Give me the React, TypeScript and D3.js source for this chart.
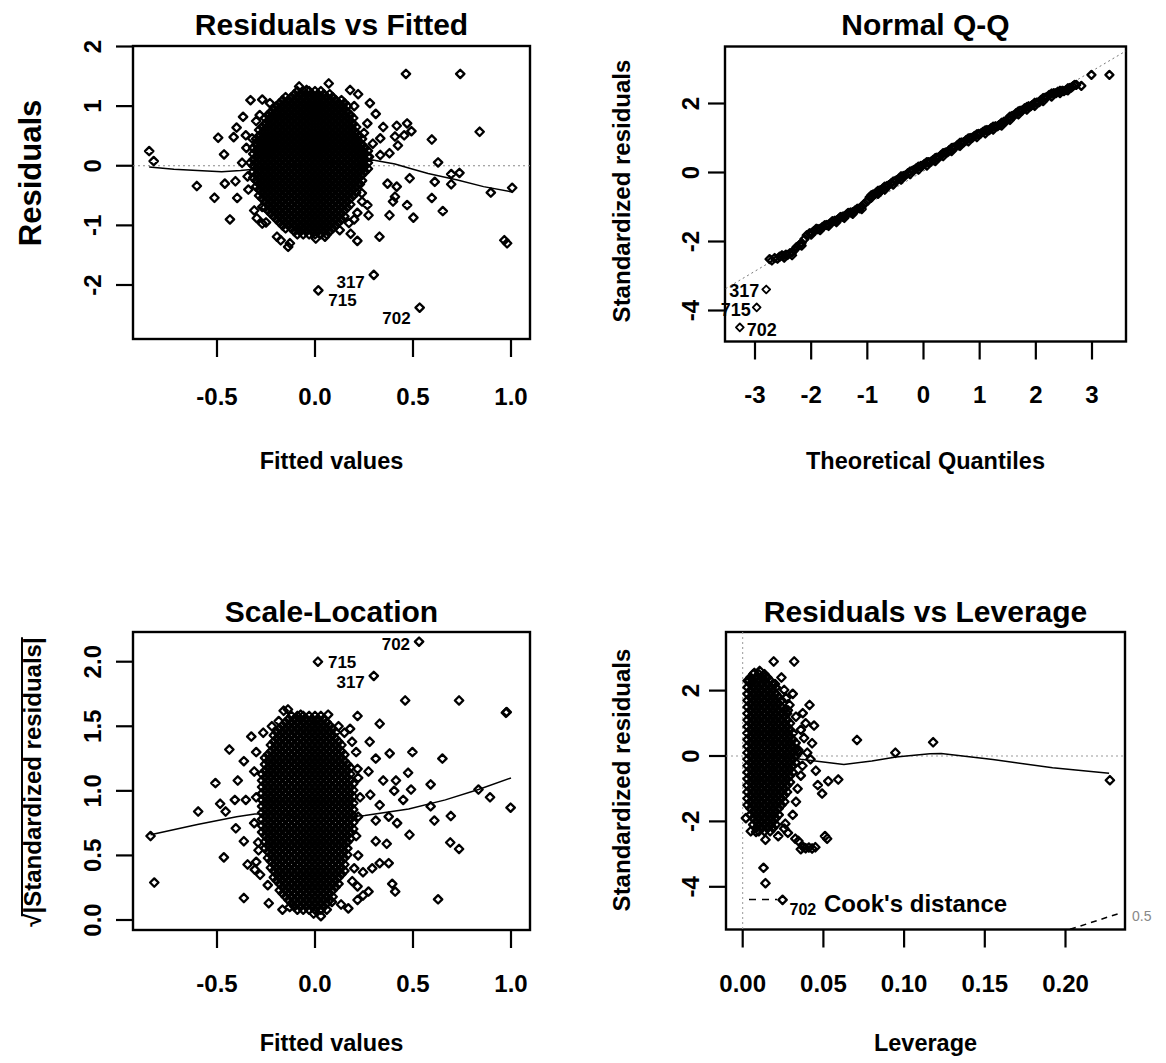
import React, { useEffect, useRef } from "react";
import * as d3 from "d3";

const FONT = "'Liberation Sans', Arial, Helvetica, sans-serif";
const loc = d3.formatLocale({ decimal: ".", thousands: ",", grouping: [3], currency: ["", ""], minus: "-" });

// ---------- Residuals vs Fitted ----------
const rfXTicks = [-0.5, 0, 0.5, 1];
const rfYTicks = [-2, -1, 0, 1, 2];
// overplotted centre of the cloud, one row per residual level: [residual, fitted values]
const rfCore: [number, number[]][] = [
  [1.25, [-.09, -.06, -.03, 0, .03]],
  [1.2, [-.105, -.075, -.045, -.015, .015, .045, .075]],
  [1.15, [-.15, -.12, -.09, -.06, -.03, 0, .03, .06, .09]],
  [1.1, [-.165, -.135, -.105, -.075, -.045, -.015, .015, .045, .075, .105, .135]],
  [1.05, [-.18, -.15, -.12, -.09, -.06, -.03, 0, .03, .06, .09, .12, .15]],
  [1, [-.195, -.165, -.135, -.105, -.075, -.045, -.015, .015, .045, .075, .105, .135, .165]],
  [.95, [-.21, -.18, -.15, -.12, -.09, -.06, -.03, 0, .03, .06, .09, .12, .15]],
  [.9, [-.225, -.195, -.165, -.135, -.105, -.075, -.045, -.015, .015, .045, .075, .105, .135, .165]],
  [.85, [-.24, -.21, -.18, -.15, -.12, -.09, -.06, -.03, 0, .03, .06, .09, .12, .15, .18]],
  [.8, [-.255, -.225, -.195, -.165, -.135, -.105, -.075, -.045, -.015, .015, .045, .075, .105, .135, .165, .195]],
  [.75, [-.24, -.21, -.18, -.15, -.12, -.09, -.06, -.03, 0, .03, .06, .09, .12, .15, .18]],
  [.7, [-.255, -.225, -.195, -.165, -.135, -.105, -.075, -.045, -.015, .015, .045, .075, .105, .135, .165, .195]],
  [.65, [-.27, -.24, -.21, -.18, -.15, -.12, -.09, -.06, -.03, 0, .03, .06, .09, .12, .15, .18, .21]],
  [.6, [-.285, -.255, -.225, -.195, -.165, -.135, -.105, -.075, -.045, -.015, .015, .045, .075, .105, .135, .165, .195]],
  [.55, [-.27, -.24, -.21, -.18, -.15, -.12, -.09, -.06, -.03, 0, .03, .06, .09, .12, .15, .18, .21]],
  [.5, [-.285, -.255, -.225, -.195, -.165, -.135, -.105, -.075, -.045, -.015, .015, .045, .075, .105, .135, .165, .195, .225]],
  [.45, [-.3, -.27, -.24, -.21, -.18, -.15, -.12, -.09, -.06, -.03, 0, .03, .06, .09, .12, .15, .18, .21, .24]],
  [.4, [-.285, -.255, -.225, -.195, -.165, -.135, -.105, -.075, -.045, -.015, .015, .045, .075, .105, .135, .165, .195, .225]],
  [.35, [-.3, -.27, -.24, -.21, -.18, -.15, -.12, -.09, -.06, -.03, 0, .03, .06, .09, .12, .15, .18, .21, .24]],
  [.3, [-.315, -.285, -.255, -.225, -.195, -.165, -.135, -.105, -.075, -.045, -.015, .015, .045, .075, .105, .135, .165, .195, .225, .255]],
  [.25, [-.3, -.27, -.24, -.21, -.18, -.15, -.12, -.09, -.06, -.03, 0, .03, .06, .09, .12, .15, .18, .21, .24, .27]],
  [.2, [-.315, -.285, -.255, -.225, -.195, -.165, -.135, -.105, -.075, -.045, -.015, .015, .045, .075, .105, .135, .165, .195, .225, .255]],
  [.15, [-.3, -.27, -.24, -.21, -.18, -.15, -.12, -.09, -.06, -.03, 0, .03, .06, .09, .12, .15, .18, .21, .24, .27]],
  [.1, [-.315, -.285, -.255, -.225, -.195, -.165, -.135, -.105, -.075, -.045, -.015, .015, .045, .075, .105, .135, .165, .195, .225, .255]],
  [.05, [-.33, -.3, -.27, -.24, -.21, -.18, -.15, -.12, -.09, -.06, -.03, 0, .03, .06, .09, .12, .15, .18, .21, .24, .27]],
  [0, [-.315, -.285, -.255, -.225, -.195, -.165, -.135, -.105, -.075, -.045, -.015, .015, .045, .075, .105, .135, .165, .195, .225, .255]],
  [-.05, [-.3, -.27, -.24, -.21, -.18, -.15, -.12, -.09, -.06, -.03, 0, .03, .06, .09, .12, .15, .18, .21, .24, .27]],
  [-.1, [-.315, -.285, -.255, -.225, -.195, -.165, -.135, -.105, -.075, -.045, -.015, .015, .045, .075, .105, .135, .165, .195, .225, .255]],
  [-.15, [-.3, -.27, -.24, -.21, -.18, -.15, -.12, -.09, -.06, -.03, 0, .03, .06, .09, .12, .15, .18, .21, .24]],
  [-.2, [-.315, -.285, -.255, -.225, -.195, -.165, -.135, -.105, -.075, -.045, -.015, .015, .045, .075, .105, .135, .165, .195, .225]],
  [-.25, [-.3, -.27, -.24, -.21, -.18, -.15, -.12, -.09, -.06, -.03, 0, .03, .06, .09, .12, .15, .18, .21, .24]],
  [-.3, [-.285, -.255, -.225, -.195, -.165, -.135, -.105, -.075, -.045, -.015, .015, .045, .075, .105, .135, .165, .195, .225]],
  [-.35, [-.3, -.27, -.24, -.21, -.18, -.15, -.12, -.09, -.06, -.03, 0, .03, .06, .09, .12, .15, .18, .21]],
  [-.4, [-.285, -.255, -.225, -.195, -.165, -.135, -.105, -.075, -.045, -.015, .015, .045, .075, .105, .135, .165, .195]],
  [-.45, [-.27, -.24, -.21, -.18, -.15, -.12, -.09, -.06, -.03, 0, .03, .06, .09, .12, .15, .18, .21]],
  [-.5, [-.285, -.255, -.225, -.195, -.165, -.135, -.105, -.075, -.045, -.015, .015, .045, .075, .105, .135, .165, .195]],
  [-.55, [-.27, -.24, -.21, -.18, -.15, -.12, -.09, -.06, -.03, 0, .03, .06, .09, .12, .15, .18]],
  [-.6, [-.255, -.225, -.195, -.165, -.135, -.105, -.075, -.045, -.015, .015, .045, .075, .105, .135, .165]],
  [-.65, [-.24, -.21, -.18, -.15, -.12, -.09, -.06, -.03, 0, .03, .06, .09, .12, .15, .18]],
  [-.7, [-.255, -.225, -.195, -.165, -.135, -.105, -.075, -.045, -.015, .015, .045, .075, .105, .135, .165]],
  [-.75, [-.24, -.21, -.18, -.15, -.12, -.09, -.06, -.03, 0, .03, .06, .09, .12, .15]],
  [-.8, [-.225, -.195, -.165, -.135, -.105, -.075, -.045, -.015, .015, .045, .075, .105, .135]],
  [-.85, [-.21, -.18, -.15, -.12, -.09, -.06, -.03, 0, .03, .06, .09, .12, .15]],
  [-.9, [-.195, -.165, -.135, -.105, -.075, -.045, -.015, .015, .045, .075, .105, .135]],
  [-.95, [-.18, -.15, -.12, -.09, -.06, -.03, 0, .03, .06, .09, .12]],
  [-1, [-.165, -.135, -.105, -.075, -.045, -.015, .015, .045, .075, .105]],
  [-1.05, [-.15, -.12, -.09, -.06, -.03, 0, .03, .06, .09]],
  [-1.1, [-.105, -.075, -.045, -.015, .015, .045, .075]],
  [-1.15, [-.09, -.06, -.03, 0, .03, .06]],
];
// scattered points round the cloud: [fitted, residual]
const rfEdge: [number, number][] = [
  [-0.846, 0.246], [-0.823, 0.078], [-0.603, -0.34], [-0.513, -0.537], [-0.494, 0.47], [-0.464, 0.19],
  [-0.46, -0.3], [-0.434, -0.9], [-0.415, 0.48], [-0.406, -0.26], [-0.397, -0.54], [-0.4, 0.64],
  [-0.367, 0.82], [-0.353, 0.51], [-0.329, 1.1], [-0.321, 0.46], [-0.372, 0.05], [-0.344, -0.18],
  [-0.269, 1.11], [-0.282, 0.85], [-0.297, -0.88], [-0.269, -0.97], [-0.269, -0.69], [-0.194, -1.19],
  [-0.175, -1.25], [-0.137, -1.36], [-0.128, -1.3], [-0.197, 0.88], [-0.081, -1.08], [-0.081, 1.33],
  [-0.043, 1.27], [0.07, 1.38], [0.004, -1.22], [0.051, -1.19], [0.126, -1.08], [0.173, -0.96],
  [0.182, -1.14], [0.216, -1.26], [0.179, 1.27], [0.22, 1.2], [0.28, 1.05], [0.31, 0.87],
  [0.267, 0.71], [0.348, 0.65], [0.333, 0.46], [0.417, 0.67], [0.47, 0.71], [0.492, 0.58],
  [0.455, 0.51], [0.408, 0.49], [0.423, 0.34], [0.38, 0.21], [0.464, 1.54], [0.741, 1.54],
  [0.84, 0.57], [0.596, 0.44], [0.628, 0.056], [0.611, -0.27], [0.483, -0.21], [0.37, -0.3],
  [0.417, -0.35], [0.408, -0.52], [0.398, -0.6], [0.38, -0.83], [0.47, -0.66], [0.502, -0.87],
  [0.596, -0.54], [0.652, -0.76], [0.695, -0.14], [0.695, -0.31], [0.737, -0.12], [0.897, -0.45],
  [1.006, -0.37], [0.966, -1.25], [0.98, -1.3], [0.329, -1.19], [0.273, -0.83], [0.267, -0.66],
  [0.216, -0.79], [0.239, -0.46], [0.229, -0.31], [0.248, -0.02], [0.276, 0.15], [0.295, 0.37],
  [0.333, 0.18], [-0.35, 0.3], [-0.34, -0.4], [-0.31, -0.75], [-0.3, 0.75], [0.25, 0.55],
  [0.24, -0.6], [0.2, 1.0], [0.2, -0.9], [-0.23, 1.05], [-0.25, -0.95],
];
const rfFlagged: [string, number, number][] = [["317", 0.3, -1.83], ["715", 0.017, -2.09], ["702", 0.534, -2.38]];
const rfSmooth: [number, number][] = [
  [-0.846, -0.02], [-0.72, -0.06], [-0.6, -0.08], [-0.476, -0.1], [-0.38, -0.08], [-0.25, -0.04],
  [-0.1, 0], [0, 0.03], [0.1, 0.06], [0.2, 0.08], [0.295, 0.095], [0.408, 0.03], [0.5, -0.06],
  [0.577, -0.13], [0.727, -0.24], [0.86, -0.35], [1.006, -0.44],
];

// ---------- Normal Q-Q ----------
const qqXTicks = [-3, -2, -1, 0, 1, 2, 3];
const qqYTicks = [-4, -2, 0, 2];
// [theoretical quantile, standardized residual]
const qqPoints: [number, number][] = [
  [-2.74, -2.51], [-2.65, -2.48], [-2.56, -2.44], [-2.5, -2.42], [-2.45, -2.38], [-2.38, -2.34],
  [-2.3, -2.25], [-2.21, -2.1], [-2.12, -1.93], [-2.03, -1.76], [-1.95, -1.7], [-1.88, -1.64],
  [-1.8, -1.58], [-1.73, -1.52], [-1.65, -1.46], [-1.58, -1.4], [-1.51, -1.34], [-1.44, -1.28],
  [-1.37, -1.22], [-1.3, -1.16], [-1.22, -1.1], [-1.14, -1.04], [-1.05, -0.9], [-0.96, -0.72],
  [-0.9, -0.64], [-0.84, -0.58], [-0.78, -0.52], [-0.72, -0.46], [-0.65, -0.39], [-0.58, -0.32],
  [-0.5, -0.24], [-0.43, -0.17], [-0.36, -0.1], [-0.28, -0.02], [-0.2, 0.05], [-0.13, 0.12],
  [-0.05, 0.19], [0.02, 0.25], [0.09, 0.3], [0.17, 0.36], [0.24, 0.43], [0.31, 0.5],
  [0.39, 0.58], [0.46, 0.65], [0.53, 0.72], [0.61, 0.8], [0.68, 0.87], [0.76, 0.94],
  [0.83, 1.0], [0.91, 1.06], [0.98, 1.12], [1.06, 1.18], [1.13, 1.23], [1.2, 1.28],
  [1.28, 1.34], [1.35, 1.38], [1.43, 1.47], [1.5, 1.55], [1.58, 1.64], [1.65, 1.72],
  [1.72, 1.79], [1.8, 1.86], [1.87, 1.92], [1.94, 1.96], [2.02, 2.03], [2.09, 2.1],
  [2.17, 2.17], [2.24, 2.25], [2.32, 2.3], [2.39, 2.34], [2.47, 2.37], [2.54, 2.39],
  [2.6, 2.45], [2.66, 2.5], [2.72, 2.54], [2.81, 2.51], [2.99, 2.83], [3.31, 2.83],
];
const qqSpread: [number, number][] = [
  [-2.6, -2.5], [-2.52, -2.4], [-2.42, -2.39], [-2.34, -2.32], [-2.26, -2.16], [-2.17, -2.04],
  [-2.08, -1.82], [-1.99, -1.75], [-1.91, -1.63], [-1.84, -1.63], [-1.76, -1.53], [-1.69, -1.51],
  [-1.62, -1.41], [-1.55, -1.39], [-1.48, -1.29], [-1.41, -1.27], [-1.34, -1.17], [-1.26, -1.15],
  [-1.18, -1.05], [-1.1, -0.99], [-1.0, -0.83], [-0.93, -0.66], [-0.87, -0.63], [-0.81, -0.53],
  [-0.75, -0.51], [-0.69, -0.41], [-0.62, -0.37], [-0.54, -0.26], [-0.47, -0.22], [-0.4, -0.11],
  [-0.32, -0.08], [-0.24, 0.03], [-0.17, 0.07], [-0.09, 0.17], [-0.02, 0.2], [0.06, 0.3],
  [0.13, 0.31], [0.21, 0.42], [0.28, 0.45], [0.35, 0.56], [0.43, 0.59], [0.5, 0.71],
  [0.57, 0.74], [0.65, 0.86], [0.72, 0.88], [0.8, 0.99], [0.87, 1.01], [0.95, 1.11],
  [1.02, 1.13], [1.1, 1.22], [1.17, 1.23], [1.24, 1.33], [1.32, 1.34], [1.39, 1.44],
  [1.47, 1.49], [1.54, 1.62], [1.62, 1.66], [1.69, 1.77], [1.76, 1.8], [1.84, 1.9],
  [1.91, 1.92], [1.98, 2.02], [2.06, 2.04], [2.13, 2.16], [2.2, 2.19], [2.28, 2.29],
  [2.36, 2.3], [2.43, 2.37], [2.5, 2.36], [2.57, 2.44], [2.63, 2.46], [2.69, 2.54],
];
const qqLower: [number, number][] = [
  [-2.7, -2.55], [-2.48, -2.47], [-2.34, -2.4], [-2.17, -2.12], [-2.0, -1.8], [-1.84, -1.67],
  [-1.69, -1.55], [-1.55, -1.44], [-1.41, -1.32], [-1.26, -1.2], [-1.1, -1.06], [-0.93, -0.73],
  [-0.81, -0.62], [-0.69, -0.5], [-0.54, -0.35], [-0.4, -0.21], [-0.24, -0.05], [-0.09, 0.08],
  [0.06, 0.2], [0.21, 0.33], [0.35, 0.47], [0.5, 0.62], [0.65, 0.77], [0.8, 0.9],
  [0.95, 1.02], [1.1, 1.13], [1.24, 1.24], [1.39, 1.36], [1.54, 1.52], [1.69, 1.68],
  [1.84, 1.82], [1.98, 1.93], [2.13, 2.07], [2.28, 2.2], [2.43, 2.3], [2.57, 2.38],
];
const qqFlagged: [string, number, number][] = [["317", -2.8, -3.39], ["715", -2.97, -3.91], ["702", -3.27, -4.49]];
const qqRefLine: [number, number][] = [[-3.6, -3.44], [3.6, 3.52]];

// ---------- Scale-Location ----------
const slXTicks = [-0.5, 0, 0.5, 1];
const slYTicks = [0, 0.5, 1, 1.5, 2];
// [sqrt|std residual|, fitted values]
const slCore: [number, number[]][] = [
  [1.58, [-.12, -.09, -.06, -.03, 0, .03]],
  [1.555, [-.135, -.105, -.075, -.045, -.015, .015, .045]],
  [1.53, [-.15, -.12, -.09, -.06, -.03, 0, .03, .06]],
  [1.505, [-.165, -.135, -.105, -.075, -.045, -.015, .015, .045, .075]],
  [1.48, [-.18, -.15, -.12, -.09, -.06, -.03, 0, .03, .06, .09]],
  [1.455, [-.195, -.165, -.135, -.105, -.075, -.045, -.015, .015, .045, .075, .105]],
  [1.43, [-.21, -.18, -.15, -.12, -.09, -.06, -.03, 0, .03, .06, .09]],
  [1.405, [-.195, -.165, -.135, -.105, -.075, -.045, -.015, .015, .045, .075, .105]],
  [1.38, [-.21, -.18, -.15, -.12, -.09, -.06, -.03, 0, .03, .06, .09, .12]],
  [1.355, [-.225, -.195, -.165, -.135, -.105, -.075, -.045, -.015, .015, .045, .075, .105, .135]],
  [1.33, [-.21, -.18, -.15, -.12, -.09, -.06, -.03, 0, .03, .06, .09, .12]],
  [1.305, [-.225, -.195, -.165, -.135, -.105, -.075, -.045, -.015, .015, .045, .075, .105, .135]],
  [1.28, [-.24, -.21, -.18, -.15, -.12, -.09, -.06, -.03, 0, .03, .06, .09, .12, .15]],
  [1.255, [-.255, -.225, -.195, -.165, -.135, -.105, -.075, -.045, -.015, .015, .045, .075, .105, .135]],
  [1.23, [-.24, -.21, -.18, -.15, -.12, -.09, -.06, -.03, 0, .03, .06, .09, .12, .15]],
  [1.205, [-.255, -.225, -.195, -.165, -.135, -.105, -.075, -.045, -.015, .015, .045, .075, .105, .135, .165]],
  [1.18, [-.24, -.21, -.18, -.15, -.12, -.09, -.06, -.03, 0, .03, .06, .09, .12, .15, .18]],
  [1.155, [-.255, -.225, -.195, -.165, -.135, -.105, -.075, -.045, -.015, .015, .045, .075, .105, .135, .165]],
  [1.13, [-.27, -.24, -.21, -.18, -.15, -.12, -.09, -.06, -.03, 0, .03, .06, .09, .12, .15, .18]],
  [1.105, [-.255, -.225, -.195, -.165, -.135, -.105, -.075, -.045, -.015, .015, .045, .075, .105, .135, .165]],
  [1.08, [-.27, -.24, -.21, -.18, -.15, -.12, -.09, -.06, -.03, 0, .03, .06, .09, .12, .15, .18]],
  [1.055, [-.255, -.225, -.195, -.165, -.135, -.105, -.075, -.045, -.015, .015, .045, .075, .105, .135, .165, .195]],
  [1.03, [-.27, -.24, -.21, -.18, -.15, -.12, -.09, -.06, -.03, 0, .03, .06, .09, .12, .15, .18]],
  [1.005, [-.255, -.225, -.195, -.165, -.135, -.105, -.075, -.045, -.015, .015, .045, .075, .105, .135, .165, .195]],
  [.98, [-.27, -.24, -.21, -.18, -.15, -.12, -.09, -.06, -.03, 0, .03, .06, .09, .12, .15, .18]],
  [.955, [-.255, -.225, -.195, -.165, -.135, -.105, -.075, -.045, -.015, .015, .045, .075, .105, .135, .165, .195]],
  [.93, [-.27, -.24, -.21, -.18, -.15, -.12, -.09, -.06, -.03, 0, .03, .06, .09, .12, .15, .18]],
  [.905, [-.255, -.225, -.195, -.165, -.135, -.105, -.075, -.045, -.015, .015, .045, .075, .105, .135, .165, .195]],
  [.88, [-.27, -.24, -.21, -.18, -.15, -.12, -.09, -.06, -.03, 0, .03, .06, .09, .12, .15, .18]],
  [.855, [-.255, -.225, -.195, -.165, -.135, -.105, -.075, -.045, -.015, .015, .045, .075, .105, .135, .165, .195]],
  [.83, [-.27, -.24, -.21, -.18, -.15, -.12, -.09, -.06, -.03, 0, .03, .06, .09, .12, .15, .18]],
  [.805, [-.255, -.225, -.195, -.165, -.135, -.105, -.075, -.045, -.015, .015, .045, .075, .105, .135, .165, .195]],
  [.78, [-.27, -.24, -.21, -.18, -.15, -.12, -.09, -.06, -.03, 0, .03, .06, .09, .12, .15, .18]],
  [.755, [-.255, -.225, -.195, -.165, -.135, -.105, -.075, -.045, -.015, .015, .045, .075, .105, .135, .165, .195]],
  [.73, [-.27, -.24, -.21, -.18, -.15, -.12, -.09, -.06, -.03, 0, .03, .06, .09, .12, .15, .18]],
  [.705, [-.255, -.225, -.195, -.165, -.135, -.105, -.075, -.045, -.015, .015, .045, .075, .105, .135, .165, .195]],
  [.68, [-.27, -.24, -.21, -.18, -.15, -.12, -.09, -.06, -.03, 0, .03, .06, .09, .12, .15, .18]],
  [.655, [-.255, -.225, -.195, -.165, -.135, -.105, -.075, -.045, -.015, .015, .045, .075, .105, .135, .165]],
  [.63, [-.24, -.21, -.18, -.15, -.12, -.09, -.06, -.03, 0, .03, .06, .09, .12, .15, .18]],
  [.605, [-.255, -.225, -.195, -.165, -.135, -.105, -.075, -.045, -.015, .015, .045, .075, .105, .135, .165]],
  [.58, [-.24, -.21, -.18, -.15, -.12, -.09, -.06, -.03, 0, .03, .06, .09, .12, .15]],
  [.555, [-.255, -.225, -.195, -.165, -.135, -.105, -.075, -.045, -.015, .015, .045, .075, .105, .135, .165]],
  [.53, [-.24, -.21, -.18, -.15, -.12, -.09, -.06, -.03, 0, .03, .06, .09, .12, .15]],
  [.505, [-.225, -.195, -.165, -.135, -.105, -.075, -.045, -.015, .015, .045, .075, .105, .135, .165]],
  [.48, [-.24, -.21, -.18, -.15, -.12, -.09, -.06, -.03, 0, .03, .06, .09, .12, .15]],
  [.455, [-.225, -.195, -.165, -.135, -.105, -.075, -.045, -.015, .015, .045, .075, .105, .135]],
  [.43, [-.21, -.18, -.15, -.12, -.09, -.06, -.03, 0, .03, .06, .09, .12, .15]],
  [.405, [-.225, -.195, -.165, -.135, -.105, -.075, -.045, -.015, .015, .045, .075, .105, .135]],
  [.38, [-.21, -.18, -.15, -.12, -.09, -.06, -.03, 0, .03, .06, .09, .12, .15]],
  [.355, [-.195, -.165, -.135, -.105, -.075, -.045, -.015, .015, .045, .075, .105, .135]],
  [.33, [-.21, -.18, -.15, -.12, -.09, -.06, -.03, 0, .03, .06, .09, .12]],
  [.305, [-.195, -.165, -.135, -.105, -.075, -.045, -.015, .015, .045, .075, .105]],
  [.28, [-.18, -.15, -.12, -.09, -.06, -.03, 0, .03, .06, .09, .12]],
  [.255, [-.165, -.135, -.105, -.075, -.045, -.015, .015, .045, .075, .105]],
  [.23, [-.18, -.15, -.12, -.09, -.06, -.03, 0, .03, .06, .09]],
  [.205, [-.165, -.135, -.105, -.075, -.045, -.015, .015, .045, .075]],
  [.18, [-.15, -.12, -.09, -.06, -.03, 0, .03, .06, .09]],
  [.155, [-.135, -.105, -.075, -.045, -.015, .015, .045, .075]],
  [.13, [-.12, -.09, -.06, -.03, 0, .03, .06]],
  [.105, [-.105, -.075, -.045, -.015, .015, .045]],
  [.08, [-.09, -.06, -.03, 0, .03, .06]],
];
const slEdge: [number, number][] = [
  [0.46, 1.7], [0.735, 1.7], [0.974, 1.605], [0.978, 1.61], [0.33, 1.52], [0.217, 1.58], [0.067, 1.59],
  [0.279, 1.38], [0.381, 1.29], [0.497, 1.3], [0.65, 1.25], [0.31, 1.25], [0.273, 1.15], [0.217, 1.17],
  [0.348, 1.08], [0.413, 1.08], [0.475, 1.14], [0.49, 1.01], [0.45, 0.93], [0.404, 1.0], [0.59, 1.05],
  [0.59, 0.88], [0.834, 1.01], [0.893, 0.95], [0.998, 0.87], [0.609, 0.77], [0.693, 0.805], [0.69, 0.6],
  [0.735, 0.55], [0.628, 0.16], [0.482, 0.66], [0.419, 0.75], [0.376, 0.8], [0.366, 0.59], [0.376, 0.44],
  [0.394, 0.28], [0.409, 0.22], [0.31, 0.61], [0.31, 0.77], [0.33, 0.89], [0.282, 0.97], [0.292, 0.4],
  [0.33, 0.44], [0.245, 0.37], [0.273, 0.22], [0.217, 0.26], [0.17, 0.09], [0.133, 0.12], [0.217, 0.155],
  [0.245, 0.19], [-0.839, 0.65], [-0.82, 0.29], [-0.596, 0.84], [-0.508, 1.06], [-0.484, 0.9],
  [-0.465, 0.485], [-0.456, 0.84], [-0.437, 1.32], [-0.409, 0.93], [-0.404, 0.71], [-0.394, 1.08],
  [-0.363, 1.23], [-0.363, 0.17], [-0.353, 0.93], [-0.363, 0.61], [-0.325, 1.42], [-0.264, 1.45],
  [-0.344, 0.43], [-0.307, 0.39], [-0.288, 0.54], [-0.241, 0.27], [-0.236, 0.13], [-0.166, 0.08],
  [-0.129, 0.1], [-0.007, 0.05], [0.03, 0.03], [0.086, 0.14], [-0.185, 1.54], [-0.138, 1.63],
  [-0.073, 1.59], [0.011, 1.55], [0.179, 1.48], [0.189, 1.38], [-0.3, 1.3], [-0.31, 1.15], [-0.3, 0.95],
  [-0.31, 0.75], [-0.29, 0.6], [-0.3, 0.45], [-0.28, 0.35], [0.21, 1.3], [0.22, 1.1], [0.23, 0.95],
  [0.22, 0.8], [0.21, 0.65], [0.22, 0.5], [0.2, 0.4], [0.19, 0.3], [-0.22, 1.5], [-0.16, 1.62],
  [0.12, 1.5], [0.15, 1.45],
];
const slFlagged: [string, number, number][] = [["702", 0.531, 2.155], ["715", 0.015, 2.0], ["317", 0.3, 1.89]];
const slSmooth: [number, number][] = [
  [-0.839, 0.66], [-0.6, 0.74], [-0.4, 0.8], [-0.307, 0.82], [-0.2, 0.82], [-0.1, 0.8], [0, 0.79],
  [0.1, 0.79], [0.254, 0.81], [0.478, 0.86], [0.665, 0.93], [0.834, 1.01], [1.0, 1.1],
];

// ---------- Residuals vs Leverage ----------
const lvXTicks = [0, 0.05, 0.1, 0.15, 0.2];
const lvYTicks = [-4, -2, 0, 2];
// [std residual, leverages]
const lvCore: [number, number[]][] = [
  [2.5, [.0065, .01, .0135]],
  [2.4, [.0048, .0083, .0118, .0153]],
  [2.3, [.003, .0065, .01, .0135, .017]],
  [2.2, [.0048, .0083, .0118, .0153, .0188]],
  [2.1, [.003, .0065, .01, .0135, .017, .0205]],
  [2, [.0048, .0083, .0118, .0153, .0188]],
  [1.9, [.003, .0065, .01, .0135, .017, .0205]],
  [1.8, [.0048, .0083, .0118, .0153, .0188, .0223]],
  [1.7, [.003, .0065, .01, .0135, .017, .0205, .024]],
  [1.6, [.0048, .0083, .0118, .0153, .0188, .0223]],
  [1.5, [.003, .0065, .01, .0135, .017, .0205, .024]],
  [1.4, [.0048, .0083, .0118, .0153, .0188, .0223, .0258]],
  [1.3, [.003, .0065, .01, .0135, .017, .0205, .024, .0275]],
  [1.2, [.0048, .0083, .0118, .0153, .0188, .0223, .0258]],
  [1.1, [.003, .0065, .01, .0135, .017, .0205, .024, .0275]],
  [1, [.0048, .0083, .0118, .0153, .0188, .0223, .0258, .0293]],
  [.9, [.003, .0065, .01, .0135, .017, .0205, .024, .0275]],
  [.8, [.0048, .0083, .0118, .0153, .0188, .0223, .0258, .0293]],
  [.7, [.003, .0065, .01, .0135, .017, .0205, .024, .0275, .031]],
  [.6, [.0048, .0083, .0118, .0153, .0188, .0223, .0258, .0293]],
  [.5, [.003, .0065, .01, .0135, .017, .0205, .024, .0275, .031]],
  [.4, [.0048, .0083, .0118, .0153, .0188, .0223, .0258, .0293, .0328]],
  [.3, [.003, .0065, .01, .0135, .017, .0205, .024, .0275, .031]],
  [.2, [.0048, .0083, .0118, .0153, .0188, .0223, .0258, .0293, .0328]],
  [.1, [.003, .0065, .01, .0135, .017, .0205, .024, .0275, .031, .0345]],
  [0, [.0048, .0083, .0118, .0153, .0188, .0223, .0258, .0293, .0328]],
  [-.1, [.003, .0065, .01, .0135, .017, .0205, .024, .0275, .031]],
  [-.2, [.0048, .0083, .0118, .0153, .0188, .0223, .0258, .0293, .0328]],
  [-.3, [.003, .0065, .01, .0135, .017, .0205, .024, .0275, .031]],
  [-.4, [.0048, .0083, .0118, .0153, .0188, .0223, .0258, .0293]],
  [-.5, [.003, .0065, .01, .0135, .017, .0205, .024, .0275, .031]],
  [-.6, [.0048, .0083, .0118, .0153, .0188, .0223, .0258, .0293]],
  [-.7, [.003, .0065, .01, .0135, .017, .0205, .024, .0275]],
  [-.8, [.0048, .0083, .0118, .0153, .0188, .0223, .0258, .0293]],
  [-.9, [.003, .0065, .01, .0135, .017, .0205, .024, .0275]],
  [-1, [.0048, .0083, .0118, .0153, .0188, .0223, .0258]],
  [-1.1, [.003, .0065, .01, .0135, .017, .0205, .024, .0275]],
  [-1.2, [.0048, .0083, .0118, .0153, .0188, .0223, .0258]],
  [-1.3, [.003, .0065, .01, .0135, .017, .0205, .024]],
  [-1.4, [.0048, .0083, .0118, .0153, .0188, .0223, .0258]],
  [-1.5, [.003, .0065, .01, .0135, .017, .0205, .024]],
  [-1.6, [.0048, .0083, .0118, .0153, .0188, .0223]],
  [-1.7, [.0065, .01, .0135, .017, .0205]],
  [-1.8, [.0048, .0083, .0118, .0153, .0188, .0223]],
  [-1.9, [.0065, .01, .0135, .017, .0205]],
  [-2, [.0083, .0118, .0153, .0188]],
  [-2.1, [.0065, .01, .0135, .017, .0205]],
  [-2.2, [.0083, .0118, .0153, .0188]],
  [-2.3, [.01, .0135, .017]],
];
const lvEdge: [number, number][] = [
  [0.0192, 2.89], [0.0319, 2.89], [0.0257, 2.02], [0.0268, 1.77], [0.029, 1.56], [0.0414, 1.56],
  [0.0372, 1.31], [0.039, 1.0], [0.0442, 0.93], [0.036, 0.8], [0.043, 0.39], [0.0345, 0.18],
  [0.0708, 0.49], [0.118, 0.42], [0.0946, 0.1], [0.0453, -0.45], [0.0465, -0.89], [0.0492, -1.15],
  [0.053, -0.77], [0.0592, -0.72], [0.2275, -0.74], [0.0264, -2.07], [0.0257, -2.22], [0.0326, -2.53],
  [0.0523, -2.53], [0.051, -2.45], [0.0072, 2.54], [0.0141, 2.43], [0.0083, -2.32], [0.0141, -2.56],
  [0.0375, -2.78], [0.039, -2.82], [0.041, -2.8], [0.043, -2.83], [0.045, -2.79], [0.036, -2.85],
  [0.0345, -2.6], [0.031, 1.9], [0.033, 1.2], [0.038, 0.55], [0.037, -0.3], [0.036, -0.6],
  [0.034, -1.0], [0.033, -1.4], [0.031, -1.8], [0.028, -2.35], [0.022, -2.45], [0.02, 2.2],
  [0.024, 2.4], [0.0105, 2.6], [0.004, 2.3], [0.002, -1.9], [0.005, -2.3], [0.028, 1.4],
  [0.04, 0.1], [0.042, -0.1], [0.0129, -3.42], [0.0141, -3.89],
];
const lvFlagged: [string, number, number][] = [["702", 0.0247, -4.4]];
const lvSmooth: [number, number][] = [
  [0.003, 0.1], [0.015, 0.05], [0.025, 0], [0.036, -0.1], [0.0627, -0.26], [0.08, -0.15], [0.095, -0.03],
  [0.116, 0.07], [0.123, 0.08], [0.155, -0.11], [0.192, -0.36], [0.227, -0.53],
];
const cookHalf: [number, number][] = [[0.2028, -5.3], [0.2135, -5.13], [0.2235, -4.97], [0.2335, -4.81]];

type Box = { l: number; r: number; t: number; b: number };
type Lin = d3.ScaleLinear<number, number>;

const diamond = (cx: number, cy: number, s: number) =>
  `M${cx},${cy - s}L${cx + s},${cy}L${cx},${cy + s}L${cx - s},${cy}Z`;

const flatten = (rows: [number, number[]][]): [number, number][] =>
  rows.flatMap(([yv, xs]) => xs.map((xv) => [xv, yv] as [number, number]));

const App = () => {
  const ref = useRef<SVGSVGElement>(null);

  useEffect(() => {
    draw();
  }, []);

  const draw = () => {
    const svg = d3.select(ref.current);
    svg.selectAll("*").remove();
    const defs = svg.append("defs");

    const frame = (
      id: string, box: Box, x: Lin, y: Lin, xTicks: number[], yTicks: number[],
      xf: (n: number) => string, yf: (n: number) => string,
      o: { title: string; titleY: number; xLab: string; xLabY: number; yLab: string; yLabX: number; yLabY: number; yLabSize: number; xTickY: number; yTickX: number }
    ) => {
      const cx = (box.l + box.r) / 2;
      defs.append("clipPath").attr("id", id).append("rect")
        .attr("x", box.l).attr("y", box.t).attr("width", box.r - box.l).attr("height", box.b - box.t);
      const g = svg.append("g").attr("font-family", FONT).attr("font-weight", "bold").attr("fill", "#000");
      g.append("rect").attr("x", box.l).attr("y", box.t).attr("width", box.r - box.l).attr("height", box.b - box.t)
        .attr("fill", "none").attr("stroke", "#000").attr("stroke-width", 2.4);
      g.selectAll(".xt").data(xTicks).join("line").attr("class", "xt")
        .attr("x1", (d) => x(d)).attr("x2", (d) => x(d)).attr("y1", box.b).attr("y2", box.b + 18)
        .attr("stroke", "#000").attr("stroke-width", 2.2);
      g.selectAll(".xl").data(xTicks).join("text").attr("class", "xl")
        .attr("x", (d) => x(d)).attr("y", o.xTickY).attr("text-anchor", "middle").attr("font-size", 24)
        .text((d) => xf(d));
      g.selectAll(".yt").data(yTicks).join("line").attr("class", "yt")
        .attr("y1", (d) => y(d)).attr("y2", (d) => y(d)).attr("x1", box.l - 17).attr("x2", box.l)
        .attr("stroke", "#000").attr("stroke-width", 2.2);
      g.selectAll(".yl").data(yTicks).join("text").attr("class", "yl")
        .attr("transform", (d) => `translate(${o.yTickX},${y(d)}) rotate(-90)`)
        .attr("text-anchor", "middle").attr("font-size", 24).text((d) => yf(d));
      g.append("text").attr("x", cx).attr("y", o.titleY).attr("text-anchor", "middle").attr("font-size", 30).text(o.title);
      g.append("text").attr("x", cx).attr("y", o.xLabY).attr("text-anchor", "middle").attr("font-size", 23.5).text(o.xLab);
      if (o.yLab) {
        g.append("text").attr("transform", `translate(${o.yLabX},${o.yLabY}) rotate(-90)`)
          .attr("text-anchor", "middle").attr("font-size", o.yLabSize).text(o.yLab);
      }
      const plot = svg.append("g").attr("clip-path", `url(#${id})`);
      return { g, plot };
    };

    const dots = (plot: any, pts: [number, number][], x: Lin, y: Lin, s: number, w: number, cls: string) => {
      plot.selectAll("." + cls).data(pts).join("path").attr("class", cls)
        .attr("d", (d: [number, number]) => diamond(x(d[0]), y(d[1]), s))
        .attr("fill", "none").attr("stroke", "#000").attr("stroke-width", w).attr("stroke-linejoin", "round");
    };

    const curve = (plot: any, pts: [number, number][], x: Lin, y: Lin, dash: string | null, color: string, w: number) => {
      const ln = d3.line<[number, number]>().x((d) => x(d[0])).y((d) => y(d[1]));
      const p = plot.append("path").attr("d", ln(pts)).attr("fill", "none").attr("stroke", color).attr("stroke-width", w);
      if (dash) p.attr("stroke-dasharray", dash);
    };

    const tags = (g: any, items: [string, number, number][], x: Lin, y: Lin, off: Record<string, [number, number, string]>, size: number) => {
      g.selectAll(".tag" + size).data(items).join("text").attr("class", "tag" + size)
        .attr("x", (d: any) => x(d[1]) + off[d[0]][0]).attr("y", (d: any) => y(d[2]) + off[d[0]][1])
        .attr("text-anchor", (d: any) => off[d[0]][2]).attr("font-size", size).text((d: any) => d[0]);
    };

    const f1 = loc.format(".1f");
    const f0 = loc.format("d");
    const f2 = loc.format(".2f");
    const S = 4.2;
    const SW = 2.3;

    // panel 1
    {
      const box = { l: 133, r: 530, t: 46, b: 339 };
      const x = d3.scaleLinear().domain([0, 1]).range([315, 511]);
      const y = d3.scaleLinear().domain([-2, 2]).range([285, 46.5]);
      const { g, plot } = frame("c1", box, x, y, rfXTicks, rfYTicks, f1, f0, {
        title: "Residuals vs Fitted", titleY: 35, xLab: "Fitted values", xLabY: 469,
        yLab: "Residuals", yLabX: 41, yLabY: 173, yLabSize: 31, xTickY: 405, yTickX: 100.7,
      });
      curve(plot, [[x.invert(box.l), 0], [x.invert(box.r), 0]], x, y, "2,3", "#888", 1);
      dots(plot, flatten(rfCore), x, y, S, SW, "pc");
      dots(plot, rfEdge, x, y, S, SW, "pe");
      dots(plot, rfFlagged.map((d) => [d[1], d[2]] as [number, number]), x, y, S, SW, "pf");
      curve(plot, rfSmooth, x, y, null, "#000", 1.5);
      tags(g, rfFlagged, x, y, { "317": [-9, 13, "end"], "715": [10, 16, "start"], "702": [-9, 16, "end"] }, 17);
    }

    // panel 2
    {
      const box = { l: 725, r: 1126, t: 46.5, b: 341.5 };
      const x = d3.scaleLinear().domain([-3, 3]).range([755, 1092]);
      const y = d3.scaleLinear().domain([-4, 2]).range([310.5, 103.5]);
      const { g, plot } = frame("c2", box, x, y, qqXTicks, qqYTicks, f0, f0, {
        title: "Normal Q-Q", titleY: 35, xLab: "Theoretical Quantiles", xLabY: 469,
        yLab: "Standardized residuals", yLabX: 629.6, yLabY: 191, yLabSize: 24, xTickY: 403, yTickX: 698.7,
      });
      curve(plot, qqRefLine, x, y, "2,3", "#777", 1);
      dots(plot, qqPoints, x, y, 4, 2.3, "qp");
      dots(plot, qqSpread, x, y, 4, 2.3, "qs");
      dots(plot, qqLower, x, y, 4, 2.3, "ql");
      dots(plot, qqFlagged.map((d) => [d[1], d[2]] as [number, number]), x, y, 3.9, 1.8, "qf");
      tags(g, qqFlagged, x, y, { "317": [-7, 8, "end"], "715": [-6, 9, "end"], "702": [7, 9, "start"] }, 18);
    }

    // panel 3
    {
      const box = { l: 133, r: 530, t: 632, b: 930 };
      const x = d3.scaleLinear().domain([0, 1]).range([315, 511]);
      const y = d3.scaleLinear().domain([0, 2]).range([920, 661.7]);
      const { g, plot } = frame("c3", box, x, y, slXTicks, slYTicks, f1, f1, {
        title: "Scale-Location", titleY: 622, xLab: "Fitted values", xLabY: 1051,
        yLab: "", yLabX: 41, yLabY: 782, yLabSize: 24, xTickY: 992, yTickX: 100.7,
      });
      const yl = g.append("g").attr("transform", "translate(41,782) rotate(-90)");
      const t = yl.append("text").attr("text-anchor", "middle").attr("font-size", 24).text("√|Standardized residuals|");
      const node = t.node() as SVGTextElement;
      const len = node.getComputedTextLength();
      const rw = node.getSubStringLength(0, 1);
      yl.append("line").attr("x1", -len / 2 + rw * 0.8).attr("x2", len / 2).attr("y1", -19).attr("y2", -19)
        .attr("stroke", "#000").attr("stroke-width", 2);
      dots(plot, flatten(slCore), x, y, S, SW, "sc");
      dots(plot, slEdge, x, y, S, SW, "se");
      dots(plot, slFlagged.map((d) => [d[1], d[2]] as [number, number]), x, y, S, SW, "sf");
      curve(plot, slSmooth, x, y, null, "#000", 1.5);
      tags(g, slFlagged, x, y, { "702": [-9, 8, "end"], "715": [10, 6, "start"], "317": [-9, 12, "end"] }, 17);
    }

    // panel 4
    {
      const box = { l: 726, r: 1125, t: 632, b: 929.5 };
      const x = d3.scaleLinear().domain([0, 0.2]).range([742.7, 1065.5]);
      const y = d3.scaleLinear().domain([-4, 2]).range([886.8, 690.6]);
      const { g, plot } = frame("c4", box, x, y, lvXTicks, lvYTicks, f2, f0, {
        title: "Residuals vs Leverage", titleY: 622, xLab: "Leverage", xLabY: 1051,
        yLab: "Standardized residuals", yLabX: 629.6, yLabY: 780, yLabSize: 24, xTickY: 992, yTickX: 698.7,
      });
      curve(plot, [[x.invert(box.l), 0], [x.invert(box.r), 0]], x, y, "2,3", "#999", 1);
      curve(plot, [[0, y.invert(box.t)], [0, y.invert(box.b)]], x, y, "2,3", "#999", 1);
      dots(plot, flatten(lvCore), x, y, S, SW, "lc");
      dots(plot, lvEdge, x, y, S, SW, "le");
      dots(plot, lvFlagged.map((d) => [d[1], d[2]] as [number, number]), x, y, S, SW, "lf");
      curve(plot, lvSmooth, x, y, null, "#000", 1.5);
      curve(plot, cookHalf, x, y, "6,5", "#000", 1.5);
      tags(g, lvFlagged, x, y, { "702": [7, 15, "start"] }, 16);
      // legend
      g.append("line").attr("x1", 749).attr("x2", 777).attr("y1", 899.5).attr("y2", 899.5)
        .attr("stroke", "#000").attr("stroke-width", 1.5).attr("stroke-dasharray", "7,6");
      g.append("text").attr("x", 824).attr("y", 912).attr("font-size", 24).text("Cook's distance");
      g.append("text").attr("x", 1132).attr("y", 921).attr("font-size", 14).attr("font-weight", "normal")
        .attr("fill", "#888").text("0.5");
    }
  };

  return (
    <svg
      ref={ref}
      width={1166}
      height={1063}
      style={{ position: "absolute", left: 0, top: 0, background: "#fff" }}
    ></svg>
  );
};

export default App;
